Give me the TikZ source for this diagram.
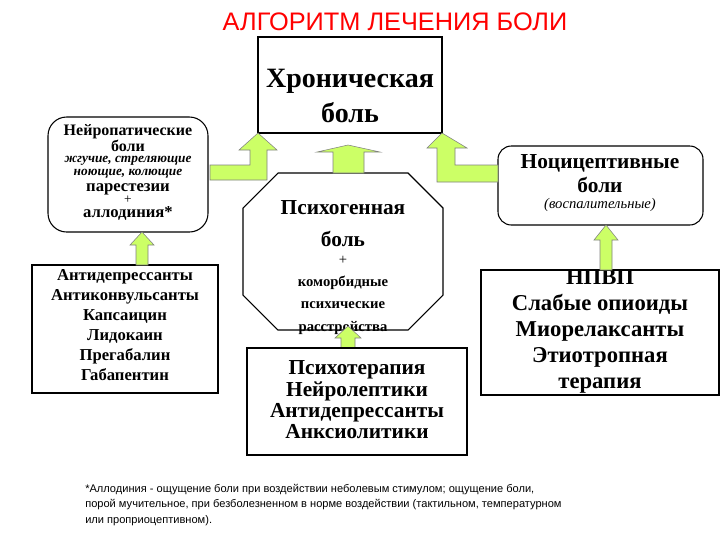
\documentclass[tikz,border=0pt]{standalone}
\usepackage{fontspec}
\setmainfont{Liberation Serif}
\newfontfamily\sansf{Liberation Sans}
\newcommand\fs[2]{\fontsize{#1}{#2}\selectfont}
\definecolor{lgreen}{HTML}{CCFF66}
\begin{document}
\begin{tikzpicture}[x=0.75pt,y=-0.75pt,
  arr/.style={fill=lgreen,draw=black!50,thin},
  txt/.style={align=center,font=\bfseries,inner sep=0pt}]
\useasboundingbox (0,0) rectangle (720,540);
\fill[white] (0,0) rectangle (720,540);
\node[font=\sansf\fs{19}{21},text=red] (title) at (395,22) {АЛГОРИТМ ЛЕЧЕНИЯ БОЛИ};
% boxes
\draw[thick] (258,37) rectangle (442,133);
\node[txt,font=\bfseries\fs{21}{26}] (chron) at (350,96) {Хроническая\\боль};
\draw[thick,rounded corners=14pt] (48,117) rectangle (208,232);
\node[txt,font=\bfseries\fs{12}{10.5}] (neuro) at (128,138) {Нейропатические\\боли};
\node[txt,font=\bfseries\itshape\fs{10}{10}] (neuroi) at (128,167) {жгучие, стреляющие\\ноющие, колющие};
\node[txt,font=\bfseries\fs{12.5}{12}] (neurop) at (128,189) {парестезии};
\node[txt,font=\fs{10}{10}] (neuroplus) at (128,200) {+};
\node[txt,font=\bfseries\fs{12.5}{12}] (neuroa) at (128,213) {аллодиния*};
\draw[thick,rounded corners=10pt] (498,146) rectangle (703,225);
\node[txt,font=\bfseries\fs{16}{18}] (noci) at (600,174) {Ноцицептивные\\боли};
\node[txt,font=\itshape\fs{11}{13}] (nocii) at (600,205) {(воспалительные)};
\draw[thick] (243,208) -- (278,173) -- (408,173) -- (443,208) -- (443,295) -- (408,330) -- (278,330) -- (243,295) -- cycle;
\node[txt,font=\bfseries\fs{16}{24}] (psy) at (343,224) {Психогенная\\боль};
\node[txt,font=\fs{11}{12}] (psyplus) at (343,260) {+};
\node[txt,font=\bfseries\fs{11}{17}] (psyc) at (343,305) {коморбидные\\психические\\расстройства};
\draw[thick] (32,265) rectangle (218,393);
\node[txt,font=\bfseries\fs{12.5}{15}] (ldrug) at (125,325) {Антидепрессанты\\Антиконвульсанты\\Капсаицин\\Лидокаин\\Прегабалин\\Габапентин};
\draw[thick] (481,270) rectangle (719,395);
\node[txt,font=\bfseries\fs{17}{19.5}] (rdrug) at (600,331) {НПВП\\Слабые опиоиды\\Миорелаксанты\\Этиотропная\\терапия};
% psychotherapy arrow (behind box)
\path[arr] (341,350) -- (341,338) -- (335,338) -- (348,326) -- (361,338) -- (355,338) -- (355,350) -- cycle;
\fill[white] (247,348) rectangle (467,455);
\draw[thick] (247,348) rectangle (467,455);
\node[txt,font=\bfseries\fs{16}{16}] (pther) at (357,400) {Психотерапия\\Нейролептики\\Антидепрессанты\\Анксиолитики};
% arrows
\path[arr] (210,165) -- (250,165) -- (250,150) -- (239,150) -- (258,133) -- (277,150) -- (267,150) -- (267,180) -- (210,180) -- cycle;
\path[arr] (333,173) -- (333,152) -- (317,152) -- (348,145) -- (380,152) -- (364,152) -- (364,173) -- cycle;
\path[arr] (498,165) -- (455,165) -- (455,148) -- (467,148) -- (442,133) -- (427,148) -- (437,148) -- (437,182) -- (498,182) -- cycle;
\path[arr] (136,265) -- (136,245) -- (130,245) -- (142,232) -- (154,245) -- (148,245) -- (148,265) -- cycle;
\path[arr] (600,270) -- (600,240) -- (594,240) -- (606,225) -- (618,240) -- (612,240) -- (612,270) -- cycle;
\node[anchor=north west,align=left,inner sep=0pt,font=\sansf\fs{8.3}{11.5}] (foot) at (85,484) {*Аллодиния - ощущение боли при воздействии неболевым стимулом; ощущение боли,\\порой мучительное, при безболезненном в норме воздействии (тактильном, температурном\\или проприоцептивном).};
\end{tikzpicture}
\end{document}
